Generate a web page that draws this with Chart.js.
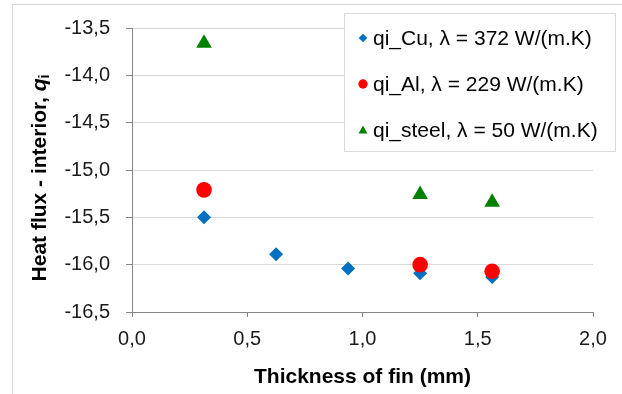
<!DOCTYPE html>
<html>
<head>
<meta charset="utf-8">
<script src="https://cdn.jsdelivr.net/npm/chart.js@4/dist/chart.umd.min.js"></script>
<style>
  html, body { margin: 0; padding: 0; background: #fff; }
  #wrap { position: relative; width: 622px; height: 394px; overflow: hidden; }
</style>
</head>
<body>
<div id="wrap"><canvas id="finChart" width="622" height="394"></canvas></div>
<script>
// Data
const xTicks = [0, 0.5, 1, 1.5, 2];
const yTicks = [-16.5, -16, -15.5, -15, -14.5, -14, -13.5];

const cuThickness = [0.3125, 0.625, 0.9375, 1.25, 1.5625];
const cuFlux = [-15.50, -15.89, -16.04, -16.09, -16.13];

const alThickness = [0.3125, 1.25, 1.5625];
const alFlux = [-15.21, -16.00, -16.07];

const steelThickness = [0.3125, 1.25, 1.5625];
const steelFlux = [-13.66, -15.26, -15.34];

const seriesLabels = [
    'qi_Cu, \u03bb = 372 W/(m.K)',
    'qi_Al, \u03bb = 229 W/(m.K)',
    'qi_steel, \u03bb = 50 W/(m.K)'
];

const FONT = '"Liberation Sans", Arial, sans-serif';
const gridColor = '#d9d9d9';
const axisColor = '#868686';

function toPoints(xs, ys) {
    return xs.map((x, i) => ({ x: x, y: ys[i] }));
}

function commaLabel(v) {
    return v.toFixed(1).replace('.', ',');
}

// Marker drawing for the custom legend
function drawMarker(ctx, style, x, y, r, color) {
    ctx.fillStyle = color;
    ctx.beginPath();
    if (style === 'rectRot') {
        ctx.moveTo(x, y - r);
        ctx.lineTo(x + r, y);
        ctx.lineTo(x, y + r);
        ctx.lineTo(x - r, y);
    } else if (style === 'triangle') {
        ctx.moveTo(x, y - r);
        ctx.lineTo(x + r, y + r * 0.8);
        ctx.lineTo(x - r, y + r * 0.8);
    } else {
        ctx.arc(x, y, r, 0, Math.PI * 2);
    }
    ctx.closePath();
    ctx.fill();
}

// Outer frame of the chart
const framePlugin = {
    id: 'frame',
    beforeDraw(chart) {
        const ctx = chart.ctx;
        ctx.save();
        ctx.strokeStyle = gridColor;
        ctx.lineWidth = 1;
        ctx.strokeRect(12.5, 4.5, 800, 600);
        ctx.restore();
    }
};

// Rotated y title with italic q and subscript i
const yTitlePlugin = {
    id: 'yTitle',
    afterDraw(chart) {
        const ctx = chart.ctx;
        const main = 'Heat flux - interior, ';
        ctx.save();
        ctx.translate(40, 178);
        ctx.rotate(-Math.PI / 2);
        ctx.fillStyle = '#000';
        ctx.textBaseline = 'middle';
        ctx.font = 'bold 21px ' + FONT;
        const w1 = ctx.measureText(main).width;
        ctx.font = 'italic bold 21px ' + FONT;
        const w2 = ctx.measureText('q').width;
        ctx.font = 'bold 14px ' + FONT;
        const w3 = ctx.measureText('i').width;
        let x = -(w1 + w2 + w3) / 2;
        ctx.font = 'bold 21px ' + FONT;
        ctx.textAlign = 'left';
        ctx.fillText(main, x, 0);
        x += w1;
        ctx.font = 'italic bold 21px ' + FONT;
        ctx.fillText('q', x, 0);
        x += w2;
        ctx.font = 'bold 14px ' + FONT;
        ctx.fillText('i', x, 5);
        ctx.restore();
    }
};

// Boxed legend inside the plot, top right
const boxLegendPlugin = {
    id: 'boxLegend',
    afterDraw(chart) {
        const ctx = chart.ctx;
        const left = 344, top = 13, width = 271, height = 138;
        const rows = [38, 84, 130];
        const markerSize = [4.3, 4.7, 4.5];
        ctx.save();
        ctx.fillStyle = '#fff';
        ctx.fillRect(left, top, width, height);
        ctx.strokeStyle = gridColor;
        ctx.lineWidth = 1;
        ctx.strokeRect(left + 0.5, top + 0.5, width, height);
        chart.data.datasets.forEach((ds, i) => {
            drawMarker(ctx, ds.pointStyle, 363, rows[i], markerSize[i], ds.backgroundColor);
            ctx.fillStyle = '#000';
            ctx.font = '21px ' + FONT;
            ctx.textBaseline = 'middle';
            ctx.textAlign = 'left';
            ctx.fillText(seriesLabels[i], 373, rows[i] + 1);
        });
        ctx.restore();
    }
};

const ctx = document.getElementById('finChart').getContext('2d');
window.finChart = new Chart(ctx, {
    type: 'scatter',
    data: {
        datasets: [{
            label: seriesLabels[0],
            data: toPoints(cuThickness, cuFlux),
            pointStyle: 'rectRot',
            pointRadius: 7,
            backgroundColor: '#0070C0',
            borderWidth: 0,
            order: 2
        }, {
            label: seriesLabels[1],
            data: toPoints(alThickness, alFlux),
            pointStyle: 'circle',
            pointRadius: 7.8,
            backgroundColor: '#FF0000',
            borderWidth: 0,
            order: 1
        }, {
            label: seriesLabels[2],
            data: toPoints(steelThickness, steelFlux),
            pointStyle: 'triangle',
            pointRadius: 9,
            backgroundColor: '#008000',
            borderWidth: 0,
            order: 0
        }]
    },
    options: {
        responsive: false,
        animation: false,
        devicePixelRatio: 1,
        layout: {
            padding: { left: 0, right: 29, top: 27, bottom: 0 }
        },
        plugins: {
            legend: { display: false },
            tooltip: { enabled: false },
            title: { display: false }
        },
        scales: {
            x: {
                type: 'linear',
                min: 0,
                max: 2,
                afterBuildTicks: (scale) => {
                    scale.ticks = xTicks.map(v => ({ value: v }));
                },
                afterFit: (scale) => { scale.height = 82; },
                border: { display: true, color: axisColor, width: 1 },
                grid: {
                    drawOnChartArea: false,
                    drawTicks: true,
                    tickLength: 5,
                    tickColor: axisColor,
                    color: axisColor
                },
                ticks: {
                    padding: 10,
                    color: '#1a1a1a',
                    font: { family: FONT, size: 20 },
                    callback: (v) => commaLabel(v)
                },
                title: {
                    display: true,
                    text: 'Thickness of fin (mm)',
                    color: '#000',
                    font: { family: FONT, size: 21, weight: 'bold' },
                    padding: { top: 0, bottom: 4 }
                }
            },
            y: {
                type: 'linear',
                min: -16.5,
                max: -13.5,
                afterBuildTicks: (scale) => {
                    scale.ticks = yTicks.map(v => ({ value: v }));
                },
                afterFit: (scale) => { scale.width = 132; },
                border: { display: true, color: axisColor, width: 1 },
                grid: {
                    color: gridColor,
                    lineWidth: 1,
                    drawTicks: true,
                    tickLength: 6,
                    tickColor: axisColor
                },
                ticks: {
                    padding: 16,
                    color: '#1a1a1a',
                    font: { family: FONT, size: 20 },
                    callback: (v) => commaLabel(v)
                },
                title: { display: false }
            }
        }
    },
    plugins: [framePlugin, yTitlePlugin, boxLegendPlugin]
});
</script>
</body>
</html>
